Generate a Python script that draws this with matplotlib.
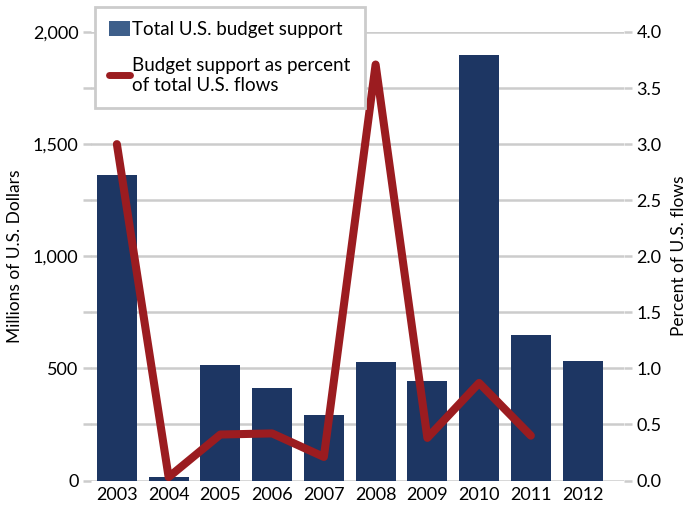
import matplotlib
matplotlib.use("Agg")
import matplotlib.pyplot as plt
from matplotlib.lines import Line2D
from matplotlib.patches import Patch
import numpy as np

plt.rcParams['font.family'] = ['Lato', 'DejaVu Sans']

years = ['2003', '2004', '2005', '2006', '2007', '2008', '2009', '2010', '2011', '2012']
support = [1362, 15, 515, 412, 292, 528, 443, 1896, 648, 532]
percent = [3.0, 0.03, 0.41, 0.42, 0.21, 3.71, 0.38, 0.87, 0.40]

left_ticks = list(range(0, 2001, 250))
left_labels = ['{:,}'.format(v) if v % 500 == 0 else '' for v in left_ticks]
right_ticks = [i * 0.5 for i in range(9)]
right_labels = ['{:.1f}'.format(v) for v in right_ticks]

bar_color = '#1d3663'
line_color = '#9b1c20'
grid_color = '#cccccc'

fig = plt.figure(figsize=(6.92, 5.12), dpi=100)
ax = fig.add_axes([91 / 692, 1 - 480.5 / 512, (624 - 91) / 692, (480.5 - 32) / 512])
ax2 = ax.twinx()

x = np.arange(len(years))
ax.bar(x, support, width=0.77, color=bar_color, zorder=2)
ax.set_ylim(0, 2000)
ax.set_xlim(-0.5, 9.8)
ax.set_yticks(left_ticks)
ax.set_yticklabels(left_labels)
ax.set_xticks(x)
ax.set_xticklabels(years)
ax.grid(axis='y', color=grid_color, linewidth=1.8, zorder=0)
ax.set_axisbelow(True)
ax.tick_params(axis='y', length=6, width=1.8, color=grid_color, labelsize=13, pad=3)
ax.tick_params(axis='x', length=0, labelsize=13, pad=5)
ax.set_ylabel('Millions of U.S. Dollars', fontsize=12.5, labelpad=7)

ax2.plot(x[:len(percent)], percent, color=line_color, linewidth=5.8,
         solid_capstyle='round', solid_joinstyle='round', zorder=3)
ax2.set_ylim(0, 4.0)
ax2.set_yticks(right_ticks)
ax2.set_yticklabels(right_labels)
ax2.tick_params(axis='y', length=6, width=1.8, color=grid_color, labelsize=13, pad=3)
ax2.set_ylabel('Percent of U.S. flows', fontsize=12.5, labelpad=7)

for a in (ax, ax2):
    for s in a.spines.values():
        s.set_visible(False)

handles = [Patch(facecolor='#3e5f8a', edgecolor='none'),
           Line2D([0], [0], color=line_color, linewidth=5, solid_capstyle='round')]
labels = ['Total U.S. budget support', 'Budget support as percent\nof total U.S. flows']
leg = fig.legend(handles, labels, loc='upper left', bbox_to_anchor=(95 / 692, 1 - 7 / 512),
                 borderaxespad=0, fontsize=13.5, frameon=True, fancybox=False,
                 handlelength=1.1, handleheight=0.8, handletextpad=0.15,
                 borderpad=0.75, labelspacing=1.0, framealpha=1)
leg.get_frame().set_edgecolor(grid_color)
leg.get_frame().set_linewidth(2)

fig.savefig('out.png', dpi=100)
